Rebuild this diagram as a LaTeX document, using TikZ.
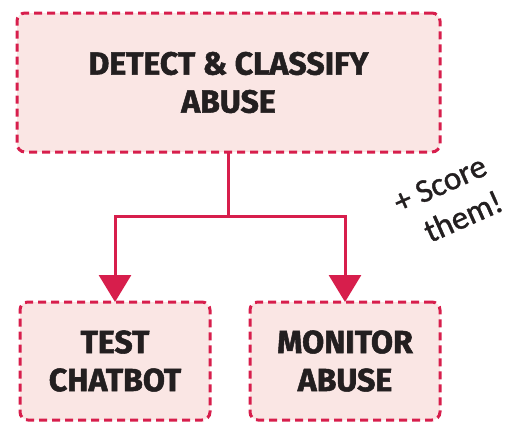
\documentclass[tikz,border=0pt]{standalone}
\usepackage{fontspec}
\setmainfont{Fira Sans}[BoldFeatures={FakeBold=1.6}]
\newfontfamily\scrawl{Carlito}[FakeBold=1.2]
\usepackage{tikz}
\usetikzlibrary{arrows.meta}
\definecolor{abusered}{RGB}{215,30,76}
\definecolor{abusepink}{RGB}{250,230,228}
\definecolor{inkblack}{RGB}{35,31,32}

\begin{document}
\begin{tikzpicture}[x=1pt, y=-1pt,
  box/.style={draw=abusered, fill=abusepink, line width=3pt, dash pattern=on 8pt off 5pt,
    rounded corners=8pt, align=center, text=inkblack, inner sep=0pt, outer sep=0pt,
    font=\fontsize{32}{38}\selectfont\bfseries},
  link/.style={draw=abusered, line width=3pt},
  tip/.style={-{Triangle[width=32pt, length=27pt]}}]
\useasboundingbox (0,0) rectangle (520,421);

\node[box, minimum width=423pt, minimum height=139pt] (detect) at (228.5,82.5) {DETECT \& CLASSIFY\\ABUSE};
\node[box, minimum width=190pt, minimum height=118pt] (test) at (115,361) {TEST\\CHATBOT};
\node[box, minimum width=190pt, minimum height=118pt] (monitor) at (345,361) {MONITOR\\ABUSE};

\coordinate (split) at (detect.south |- 0,216);
\draw[link] (detect.south) -- (split);
\draw[link, tip] (split) -| (test.north);
\draw[link, tip] (split) -| (monitor.north);

% handwritten note
\node[text=inkblack, font=\scrawl\fontsize{33}{33}\selectfont, rotate=24] (score) at (440,184) {+ Score};
\node[text=inkblack, font=\scrawl\fontsize{33}{33}\selectfont, rotate=24] (them) at (463,216) {them!};
\end{tikzpicture}
\end{document}
